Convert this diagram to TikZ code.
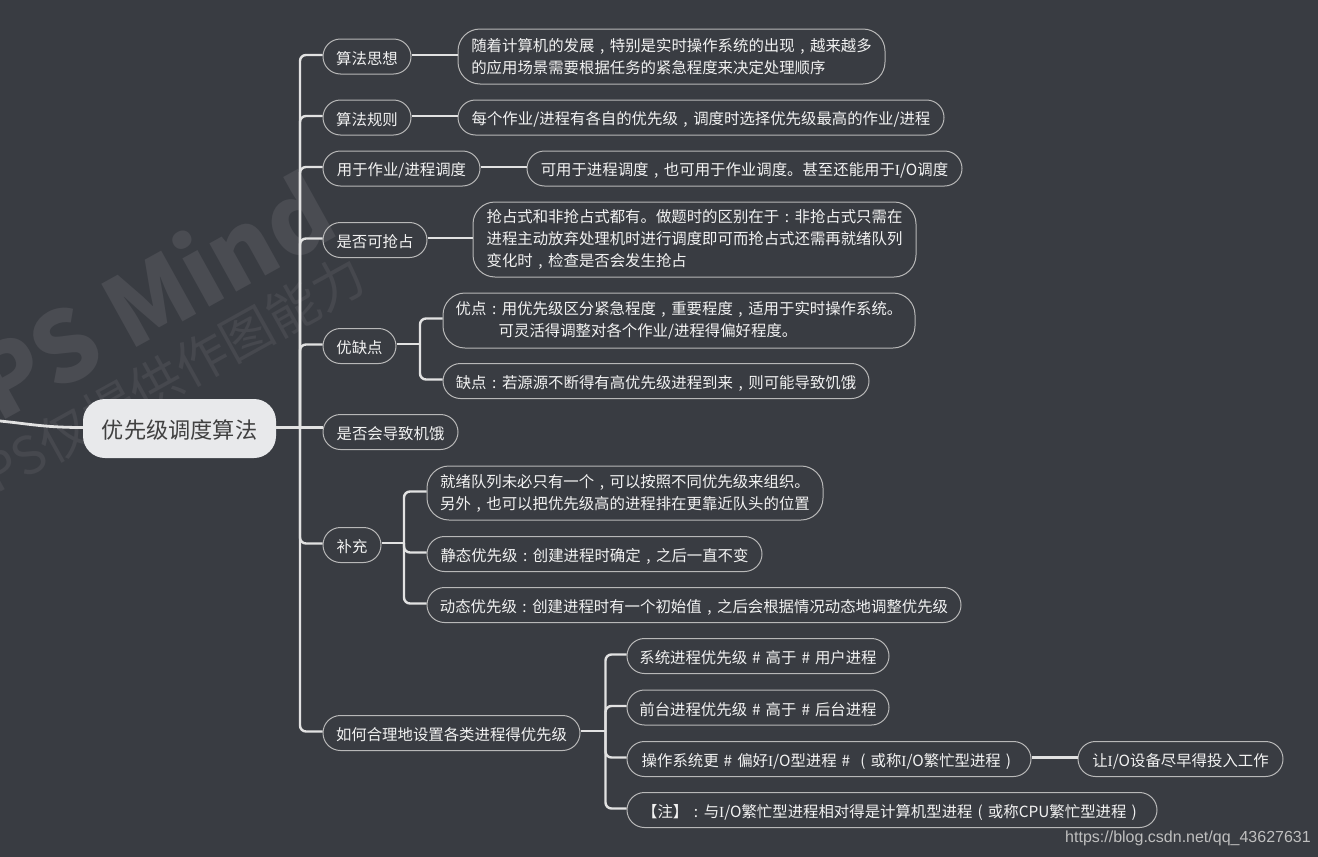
\documentclass[tikz,border=0pt]{standalone}
\usepackage{fontspec}
\setmainfont{Noto Sans CJK SC}
\newfontfamily\urlf{Liberation Sans}
\newfontfamily\serf{Liberation Serif}
\newcommand\zc{\makebox[1em][c]{,}}
\newcommand\zk{\makebox[1em][c]{:}}
\newcommand\zl{\makebox[1em][c]{(}}
\newcommand\zr{\makebox[1em][c]{)}}
\newcommand\zi{{\serf I}}
\newcommand\zs{\hspace{5pt}}
\newcommand\zsh{\zs\#\zs}
\definecolor{bgc}{HTML}{393C42}
\definecolor{wmc}{HTML}{4A4C52}
\definecolor{wmd}{HTML}{46484E}
\definecolor{linec}{HTML}{E2E2E2}
\definecolor{bordc}{HTML}{B8B8B8}
\definecolor{txtc}{HTML}{F2F2F2}
\definecolor{rootc}{HTML}{E8E9EB}
\tikzset{
  topic/.style={draw=bordc,line width=1pt,text=txtc,rounded corners=17.5pt,inner xsep=0pt,inner ysep=0pt,align=left,
    font=\fontsize{15.4}{22}\selectfont,execute at begin node={\rule[-2pt]{0pt}{19.5pt}}},
  rootnode/.style={fill=#1,draw=none,text=black!75,rounded corners=22pt,inner sep=0pt,font=\fontsize{22.2}{26}\selectfont,execute at begin node={\rule[-2.5pt]{0pt}{24pt}}},
  conn/.style={draw=linec,line width=2.4pt,rounded corners=6pt},
  conn2/.style={draw=linec,line width=2.2pt},
  wm/.style={rotate=29,anchor=base west,inner sep=0pt}
}
\begin{document}
\begin{tikzpicture}[x=1pt,y=-1pt]
\useasboundingbox (0,0) rectangle (1318,857);
\fill[bgc] (0,0) rectangle (1318,857);
\begin{scope}
\clip (0,0) rectangle (1318,857);
\node[wm,text=wmc,font=\fontsize{97}{97}\selectfont\bfseries] (wm1) at (-2,424) {PS Mind};
\node[wm,text=wmd,font=\fontsize{52}{52}\selectfont] (wm2) at (-4,495) {PS仅提供作图能力};
\end{scope}
% root
\node[rootnode=rootc] (root) at (179.5,428.5) [minimum width=193pt,minimum height=59pt] {优先级调度算法};
% level 1
\node[topic,minimum width=88pt,minimum height=35pt] (a1) at (367,56.5) {算法思想};
\node[topic,minimum width=88pt,minimum height=35pt] (a2) at (367,117.5) {算法规则};
\node[topic,minimum width=157pt,minimum height=35pt] (a3) at (401.5,168.5) {用于作业/进程调度};
\node[topic,minimum width=104pt,minimum height=35pt] (a4) at (375,240) {是否可抢占};
\node[topic,minimum width=73pt,minimum height=35pt] (a5) at (359.5,346) {优缺点};
\node[topic,minimum width=135pt,minimum height=35pt] (a6) at (390.5,432) {是否会导致机饿};
\node[topic,minimum width=58pt,minimum height=35pt] (a7) at (352,545) {补充};
\node[topic,minimum width=257pt,minimum height=35pt] (a8) at (451.5,733) {如何合理地设置各类进程得优先级};
% level 2
\node[topic,minimum width=427pt,minimum height=55pt,rounded corners=22pt] (b1) at (671.5,56.5) {随着计算机的发展\zc 特别是实时操作系统的出现\zc 越来越多\\的应用场景需要根据任务的紧急程度来决定处理顺序};
\node[topic,minimum width=486pt,minimum height=35pt] (b2) at (701,117.5) {每个作业/进程有各自的优先级\zc 调度时选择优先级最高的作业/进程};
\node[topic,minimum width=435pt,minimum height=35pt] (b3) at (744.5,168.5) {可用于进程调度\zc 也可用于作业调度。甚至还能用于\zi/O调度};
\node[topic,minimum width=443pt,minimum height=75pt,rounded corners=22pt] (b4) at (694.5,239.5) {抢占式和非抢占式都有。做题时的区别在于\zk 非抢占式只需在\\进程主动放弃处理机时进行调度即可而抢占式还需再就绪队列\\变化时\zc 检查是否会发生抢占};
\node[topic,minimum width=472pt,minimum height=55pt,rounded corners=22pt] (c1) at (679,320.5) {优点\zk 用优先级区分紧急程度\zc 重要程度\zc 适用于实时操作系统。\\\hspace*{43pt}可灵活得调整对各个作业/进程得偏好程度。};
\node[topic,minimum width=426pt,minimum height=35pt] (c2) at (656,381) {缺点\zk 若源源不断得有高优先级进程到来\zc 则可能导致饥饿};
\node[topic,minimum width=396pt,minimum height=54pt,rounded corners=22pt] (d1) at (625,493) {就绪队列未必只有一个\zc 可以按照不同优先级来组织。\\另外\zc 也可以把优先级高的进程排在更靠近队头的位置};
\node[topic,minimum width=335pt,minimum height=35pt] (d2) at (594.5,554) {静态优先级\zk 创建进程时确定\zc 之后一直不变};
\node[topic,minimum width=534pt,minimum height=35pt] (d3) at (694,605) {动态优先级\zk 创建进程时有一个初始值\zc 之后会根据情况动态地调整优先级};
\node[topic,minimum width=262pt,minimum height=35pt] (e1) at (758,656) {系统进程优先级\zsh 高于\zsh 用户进程};
\node[topic,minimum width=262pt,minimum height=35pt] (e2) at (758,707.5) {前台进程优先级\zsh 高于\zsh 后台进程};
\node[topic,minimum width=404pt,minimum height=35pt] (e3) at (829,759) {操作系统更\zsh 偏好\zi/O型进程\zsh\zl 或称\zi/O繁忙型进程\zr};
\node[topic,minimum width=205pt,minimum height=35pt] (f1) at (1180.5,759) {让\zi/O设备尽早得投入工作};
\node[topic,minimum width=530pt,minimum height=35pt] (e4) at (892,810) {【注】\zk 与\zi/O繁忙型进程相对得是计算机型进程\zl 或称CPU繁忙型进程\zr};
\node[text=black!25,font=\urlf\fontsize{16}{18}\selectfont,inner sep=0pt] (url) at (1188,838) {https://blog.csdn.net/qq\_43627631};
% junctions
\coordinate (j0) at (300,427.5);
\coordinate (j5) at (420,344);
\coordinate (j7) at (404,543);
\coordinate (j8) at (605.5,731);
\coordinate (free) at (0,421);
% connectors
\draw[conn,line width=2.8pt] (root.west |- j0) .. controls (45,427.5) and (30,424) .. (free);
\draw[conn2] (root.east |- j0) -- (j0);
\foreach \n in {a1,a2,a3,a4,a5,a7,a8}{\draw[conn] (j0) |- ([yshift=1.5pt]\n.west);}
\draw[conn2] (j0) -- (a6.west |- j0);
\draw[conn2] ([yshift=1.5pt]a1.east) -- ([yshift=1.5pt]a1.east -| b1.west);
\draw[conn2] ([yshift=1.5pt]a2.east) -- ([yshift=1.5pt]a2.east -| b2.west);
\draw[conn2] ([yshift=1.5pt]a3.east) -- ([yshift=1.5pt]a3.east -| b3.west);
\draw[conn2] ([yshift=2pt]a4.east) -- ([yshift=2pt]a4.east -| b4.west);
\draw[conn2] ([yshift=2pt]a5.east) -- (j5);
\draw[conn2] ([yshift=2pt]a7.east) -- (j7);
\draw[conn2] ([yshift=2pt]a8.east) -- (j8);
\draw[conn2] ([yshift=1.5pt]e3.east) -- ([yshift=1.5pt]e3.east -| f1.west);
\draw[conn] (j5) |- ([yshift=2pt]c1.west);
\draw[conn] (j5) |- ([yshift=1.5pt]c2.west);
\draw[conn] (j7) |- ([yshift=1.5pt]d1.west);
\draw[conn] (j7) |- ([yshift=1.5pt]d2.west);
\draw[conn] (j7) |- ([yshift=1.5pt]d3.west);
\draw[conn] (j8) |- ([yshift=1.5pt]e1.west);
\draw[conn] (j8) |- ([yshift=1.5pt]e2.west);
\draw[conn] (j8) |- ([yshift=1.5pt]e3.west);
\draw[conn] (j8) |- ([yshift=1.5pt]e4.west);
\end{tikzpicture}
\end{document}
